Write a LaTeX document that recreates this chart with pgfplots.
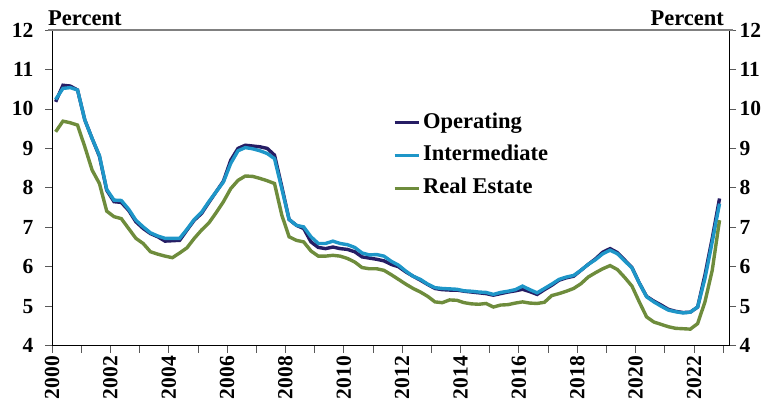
\documentclass[border=0pt]{standalone}
\usepackage{pgfplots}
\pgfplotsset{compat=1.18}
\usepackage{pgfplotstable}
\usepackage{fontspec}
\setmainfont{Liberation Serif}
\definecolor{opcol}{HTML}{261D64}
\definecolor{incol}{HTML}{1E96C8}
\definecolor{recol}{HTML}{6E8C3C}
\newcommand{\tickfont}{\fontsize{21.5bp}{24bp}\selectfont\bfseries}
\newcommand{\legfont}{\fontsize{22.5bp}{26bp}\selectfont\bfseries}
\pgfplotstableread{
t O I R
2000.125 10.18 10.24 9.42
2000.375 10.60 10.52 9.69
2000.625 10.58 10.54 9.65
2000.875 10.48 10.48 9.59
2001.125 9.72 9.72 9.04
2001.375 9.25 9.25 8.45
2001.625 8.80 8.82 8.11
2001.875 7.94 7.96 7.41
2002.125 7.65 7.69 7.27
2002.375 7.63 7.68 7.22
2002.625 7.43 7.46 6.97
2002.875 7.14 7.18 6.72
2003.125 6.97 7.01 6.59
2003.375 6.84 6.86 6.38
2003.625 6.76 6.78 6.32
2003.875 6.65 6.72 6.27
2004.125 6.66 6.72 6.23
2004.375 6.67 6.72 6.35
2004.625 6.93 6.95 6.48
2004.875 7.18 7.20 6.72
2005.125 7.35 7.38 6.93
2005.375 7.63 7.65 7.11
2005.625 7.90 7.90 7.37
2005.875 8.17 8.15 7.65
2006.125 8.70 8.62 7.98
2006.375 9.00 8.94 8.19
2006.625 9.08 9.02 8.30
2006.875 9.06 8.99 8.29
2007.125 9.04 8.94 8.24
2007.375 9.00 8.87 8.18
2007.625 8.83 8.74 8.11
2007.875 8.03 7.98 7.31
2008.125 7.20 7.20 6.76
2008.375 7.05 7.05 6.67
2008.625 6.97 7.01 6.63
2008.875 6.63 6.76 6.40
2009.125 6.49 6.59 6.27
2009.375 6.46 6.59 6.27
2009.625 6.50 6.65 6.29
2009.875 6.46 6.59 6.27
2010.125 6.44 6.56 6.21
2010.375 6.38 6.49 6.12
2010.625 6.25 6.35 5.98
2010.875 6.22 6.30 5.95
2011.125 6.19 6.31 5.95
2011.375 6.15 6.27 5.91
2011.625 6.06 6.14 5.80
2011.875 6.00 6.04 5.68
2012.125 5.87 5.89 5.56
2012.375 5.76 5.76 5.45
2012.625 5.66 5.68 5.36
2012.875 5.55 5.56 5.25
2013.125 5.45 5.47 5.11
2013.375 5.42 5.45 5.09
2013.625 5.41 5.44 5.16
2013.875 5.41 5.43 5.15
2014.125 5.38 5.39 5.09
2014.375 5.36 5.38 5.06
2014.625 5.34 5.36 5.05
2014.875 5.32 5.35 5.07
2015.125 5.28 5.30 4.98
2015.375 5.32 5.35 5.03
2015.625 5.36 5.38 5.04
2015.875 5.39 5.42 5.08
2016.125 5.43 5.51 5.11
2016.375 5.37 5.42 5.08
2016.625 5.30 5.34 5.07
2016.875 5.42 5.45 5.10
2017.125 5.53 5.56 5.27
2017.375 5.66 5.68 5.32
2017.625 5.72 5.74 5.38
2017.875 5.76 5.78 5.45
2018.125 5.91 5.91 5.57
2018.375 6.06 6.06 5.74
2018.625 6.20 6.18 5.85
2018.875 6.37 6.33 5.95
2019.125 6.46 6.42 6.03
2019.375 6.36 6.33 5.93
2019.625 6.17 6.15 5.73
2019.875 5.98 5.97 5.51
2020.125 5.59 5.59 5.11
2020.375 5.25 5.24 4.73
2020.625 5.13 5.11 4.60
2020.875 5.03 5.00 4.54
2021.125 4.92 4.90 4.48
2021.375 4.87 4.86 4.44
2021.625 4.84 4.83 4.43
2021.875 4.85 4.85 4.42
2022.125 4.98 4.98 4.56
2022.375 5.79 5.70 5.11
2022.625 6.72 6.63 5.91
2022.875 7.73 7.60 7.18
}\ratetable
\begin{document}
\begin{tikzpicture}[x=1bp,y=1bp]
\begin{axis}[
  at={(0,0)}, anchor=south west,
  scale only axis, width=677bp, height=315.7bp,
  xmin=2000, xmax=2023.2, ymin=4, ymax=12,
  axis x line*=bottom, axis y line*=left,
  axis line style={black, line width=0.7bp},
  ytick={4,5,...,12},
  xtick={2000,2002,...,2022},
  xticklabels={2000,2002,2004,2006,2008,2010,2012,2014,2016,2018,2020,2022},
  minor xtick={2001,2003,...,2023},
  tick align=outside,
  major tick length=7bp, minor tick length=7bp,
  tick style={black!65, line width=0.8bp},
  x tick label style={rotate=90, anchor=east, font=\tickfont},
  y tick label style={font=\tickfont, xshift=-8bp},
  /pgf/number format/assume math mode=true,
  legend style={at={(rel axis cs:0.5037,0.74)}, anchor=north west, draw=none, fill=none,
    font=\legfont, row sep=11.7bp, inner sep=0pt, column sep=3bp,
    nodes={inner sep=0pt, text height=16bp, text depth=5bp}},
  legend cell align=left,
  legend image code/.code={\draw[#1, line width=3bp] (0bp,0bp) -- (24bp,0bp);},
]
\addplot[opcol, line width=3.4bp] table[x=t, y=O] {\ratetable};
\addlegendentry{Operating}
\addplot[incol, line width=3.4bp] table[x=t, y=I] {\ratetable};
\addlegendentry{Intermediate}
\addplot[recol, line width=3.4bp] table[x=t, y=R] {\ratetable};
\addlegendentry{Real Estate}
\end{axis}
\begin{axis}[
  at={(0,0)}, anchor=south west,
  scale only axis, width=677bp, height=315.7bp,
  xmin=2000, xmax=2023.2, ymin=4, ymax=12,
  axis y line*=right, axis x line=none,
  axis line style={black, line width=0.7bp},
  ytick={4,5,...,12},
  tick align=outside,
  major tick length=7bp,
  tick style={black!65, line width=0.8bp},
  y tick label style={font=\tickfont},
  /pgf/number format/assume math mode=true,
]
\addplot[draw=none] coordinates {(2000,4)};
\end{axis}
\draw[black!50, line width=2bp] (-4bp,315.7bp) -- (681bp,315.7bp);
\node[anchor=base west, font=\legfont, inner sep=0pt] at (-4bp,319.7bp) {Percent};
\node[anchor=base east, font=\legfont, inner sep=0pt] at (672bp,319.7bp) {Percent};
\pgfresetboundingbox
\path[use as bounding box] (-52bp,-61.3bp) rectangle (719bp,345.7bp);
\end{tikzpicture}
\end{document}
